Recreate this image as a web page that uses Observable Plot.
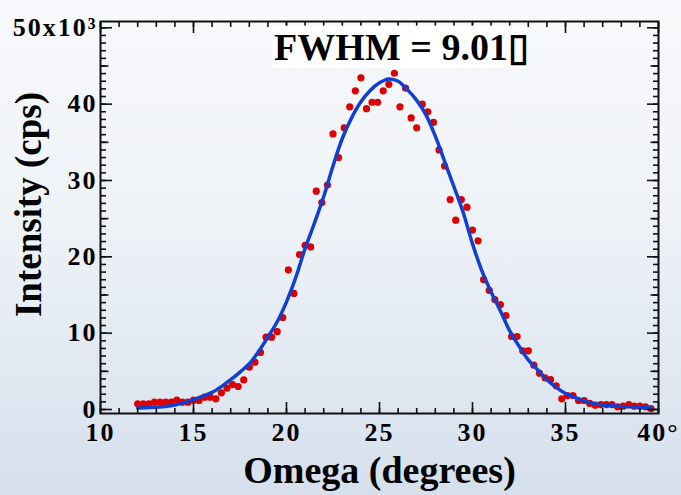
<!DOCTYPE html>
<html>
<head>
<meta charset="utf-8">
<script src="https://cdn.jsdelivr.net/npm/d3@7"></script>
<script src="https://cdn.jsdelivr.net/npm/@observablehq/plot@0.6"></script>
<style>
  html, body { margin: 0; padding: 0; width: 681px; height: 495px; overflow: hidden; }
  body { background: linear-gradient(to bottom, #f8f9fb 0%, #eef2f7 45%, #d5e0ec 100%); color: #000; }
  #chart svg text { font-family: "Liberation Serif", "Times New Roman", serif; }
  #chart svg g[aria-label$="tick label"] text { letter-spacing: 2px; }
</style>
</head>
<body>
<div id="chart"></div>
<script>
// ---- measured data (Omega in degrees, intensity in cps) ----
const omega = [
  12.0, 12.3, 12.6, 12.9, 13.2, 13.5, 13.8, 14.1, 14.4, 14.7,
  15.0, 15.3, 15.6, 15.9, 16.2, 16.5, 16.8, 17.1, 17.4, 17.7,
  18.0, 18.3, 18.6, 18.9, 19.2, 19.5, 19.8, 20.1, 20.4, 20.7,
  21.0, 21.3, 21.6, 21.9, 22.2, 22.5, 22.8, 23.1, 23.4, 23.7,
  24.0, 24.3, 24.6, 24.9, 25.2, 25.5, 25.8, 26.1, 26.4, 26.7,
  27.0, 27.3, 27.6, 27.9, 28.2, 28.5, 28.8, 29.1, 29.4, 29.7,
  30.0, 30.3, 30.6, 30.9, 31.2, 31.5, 31.8, 32.1, 32.4, 32.7,
  33.0, 33.3, 33.6, 33.9, 34.2, 34.5, 34.8, 35.1, 35.4, 35.7,
  36.0, 36.3, 36.6, 36.9, 37.2, 37.5, 37.8, 38.1, 38.4, 38.7,
  39.0, 39.3, 39.6
];
const intensity = [
  750, 750, 750, 960, 960, 960, 960, 1220, 960, 960,
  1220, 1180, 1610, 1610, 1400, 2180, 2800, 3270, 3010, 3890,
  5540, 6200, 7470, 9470, 9470, 10200, 12050, 18300, 15200, 20300,
  21500, 21300, 28600, 27100, 29400, 36100, 33000, 36900, 39650, 41750,
  43450, 39400, 40250, 40250, 41750, 42600, 44050, 39650, 42100, 38200,
  36900, 40000, 39000, 37600, 34000, 31900, 27500, 24800, 27500, 26500,
  23500, 22100, 17000, 15600, 14400, 13750, 12300, 9560, 9560, 7690,
  7690, 5800, 4760, 4150, 3930, 3100, 1400, 1830, 1830, 1180,
  1180, 790, 560, 650, 650, 650, 350, 430, 650, 430,
  430, 350, 130
];

// ---- fitted curve ----
const fitOmega = [
  12.0, 12.5, 13.0, 13.5, 14.0, 14.5, 15.0, 15.5, 16.0, 16.5,
  17.0, 17.5, 18.0, 18.5, 19.0, 19.5, 20.0, 20.5, 21.0, 21.5,
  22.0, 22.5, 23.0, 23.5, 24.0, 24.5, 25.0, 25.5, 26.0, 26.5,
  27.0, 27.5, 28.0, 28.5, 29.0, 29.5, 30.0, 30.5, 31.0, 31.5,
  32.0, 32.5, 33.0, 33.5, 34.0, 34.5, 35.0, 35.5, 36.0, 36.5,
  37.0, 37.5, 38.0, 38.5, 39.0, 39.5, 39.6
];
const fitIntensity = [
  200, 220, 300, 400, 600, 900, 1300, 1750, 2250, 3000,
  3900, 4900, 6000, 7600, 9500, 11500, 14100, 17300, 21100, 24400,
  27900, 31900, 35500, 38200, 40300, 41800, 42800, 43300, 43000, 41900,
  40500, 38600, 35800, 32500, 29200, 25800, 21700, 18200, 15400, 12900,
  10300, 8300, 6500, 5200, 3900, 2900, 2100, 1600, 1100, 800,
  600, 500, 400, 350, 300, 230, 220
];

// ---- ticks and labels ----
const xMajorTicks = [10, 15, 20, 25, 30, 35, 40];
const xMinorTicks = d3.range(10, 41, 1);
const yMajorTicks = [0, 10000, 20000, 30000, 40000, 50000];
const yMidTicks = [5000, 15000, 25000, 35000, 45000];
const yMinorTicks = d3.range(0, 50001, 1000);
const xTickLabel = d => d === 40 ? "40°" : String(d);
const yTickLabel = d => d === 50000 ? "50x10³" : String(d / 1000);
const xTitle = "Omega (degrees)";
const yTitle = "Intensity (cps)";
const fwhmText = "FWHM = 9.01▯";

const points = omega.map((x, i) => ({omega: x, intensity: intensity[i]}));
const fit = fitOmega.map((x, i) => ({omega: x, intensity: fitIntensity[i]}));

const tickStyle = {stroke: "#111", strokeWidth: 1.6, label: null, tickFormat: () => ""};

const chart = Plot.plot({
  width: 681,
  height: 495,
  marginLeft: 100,
  marginRight: 23,
  marginTop: 21,
  marginBottom: 82,
  x: {domain: [10, 40]},
  y: {domain: [-524, 50826]},
  style: {background: "transparent", overflow: "visible", fontFamily: "'Liberation Serif','Times New Roman',serif"},
  marks: [
    Plot.dot(points, {x: "omega", y: "intensity", r: 3.6, fill: "#dc0000", stroke: null}),
    Plot.line(fit, {x: "omega", y: "intensity", stroke: "#1040d0", strokeWidth: 3.5, curve: "catmull-rom"}),
    // inward ticks on all four sides
    Plot.axisX(xMinorTicks, {anchor: "bottom", tickSize: -5, ...tickStyle}),
    Plot.axisX(xMajorTicks, {anchor: "bottom", tickSize: -11, ...tickStyle}),
    Plot.axisX(xMinorTicks, {anchor: "top", tickSize: -5, ...tickStyle}),
    Plot.axisX(xMajorTicks, {anchor: "top", tickSize: -11, ...tickStyle}),
    Plot.axisY(yMinorTicks, {anchor: "left", tickSize: -6, ...tickStyle}),
    Plot.axisY(yMidTicks, {anchor: "left", tickSize: -8.5, ...tickStyle}),
    Plot.axisY(yMajorTicks, {anchor: "left", tickSize: -12, ...tickStyle}),
    Plot.axisY(yMinorTicks, {anchor: "right", tickSize: -6, ...tickStyle}),
    Plot.axisY(yMidTicks, {anchor: "right", tickSize: -8.5, ...tickStyle}),
    Plot.axisY(yMajorTicks, {anchor: "right", tickSize: -12, ...tickStyle}),
    Plot.frame({stroke: "#111", strokeWidth: 2}),
    // tick labels
    Plot.axisX(xMajorTicks, {anchor: "bottom", tickSize: 0, tickPadding: 9, tickFormat: xTickLabel, label: null, fontSize: 26, fontWeight: "bold"}),
    Plot.axisY(yMajorTicks, {anchor: "left", tickSize: 0, tickPadding: 3, tickFormat: yTickLabel, label: null, fontSize: 26, fontWeight: "bold"}),
    // titles
    Plot.text([yTitle], {text: d => d, frameAnchor: "left", rotate: -90, dx: -71, dy: -13, textAnchor: "middle", lineAnchor: "middle", fontSize: 37, fontWeight: "bold"}),
    Plot.text([xTitle], {text: d => d, frameAnchor: "bottom", dy: 57, textAnchor: "middle", lineAnchor: "middle", fontSize: 38, fontWeight: "bold"}),
    Plot.text([fwhmText], {text: d => d, frameAnchor: "top", dx: 22, dy: 26, textAnchor: "middle", lineAnchor: "middle", fontSize: 38, fontWeight: "bold"})
  ]
});
document.getElementById("chart").append(chart);

// white box behind the FWHM annotation
d3.select(chart).selectAll("text")
  .filter(function () { return this.textContent === fwhmText; })
  .each(function () {
    const b = this.getBBox();
    const node = this;
    d3.select(node.parentNode).insert("rect", () => node)
      .attr("transform", node.getAttribute("transform"))
      .attr("x", b.x - 2).attr("y", b.y).attr("width", b.width).attr("height", b.height)
      .attr("fill", "#ffffff");
  });
</script>
</body>
</html>
